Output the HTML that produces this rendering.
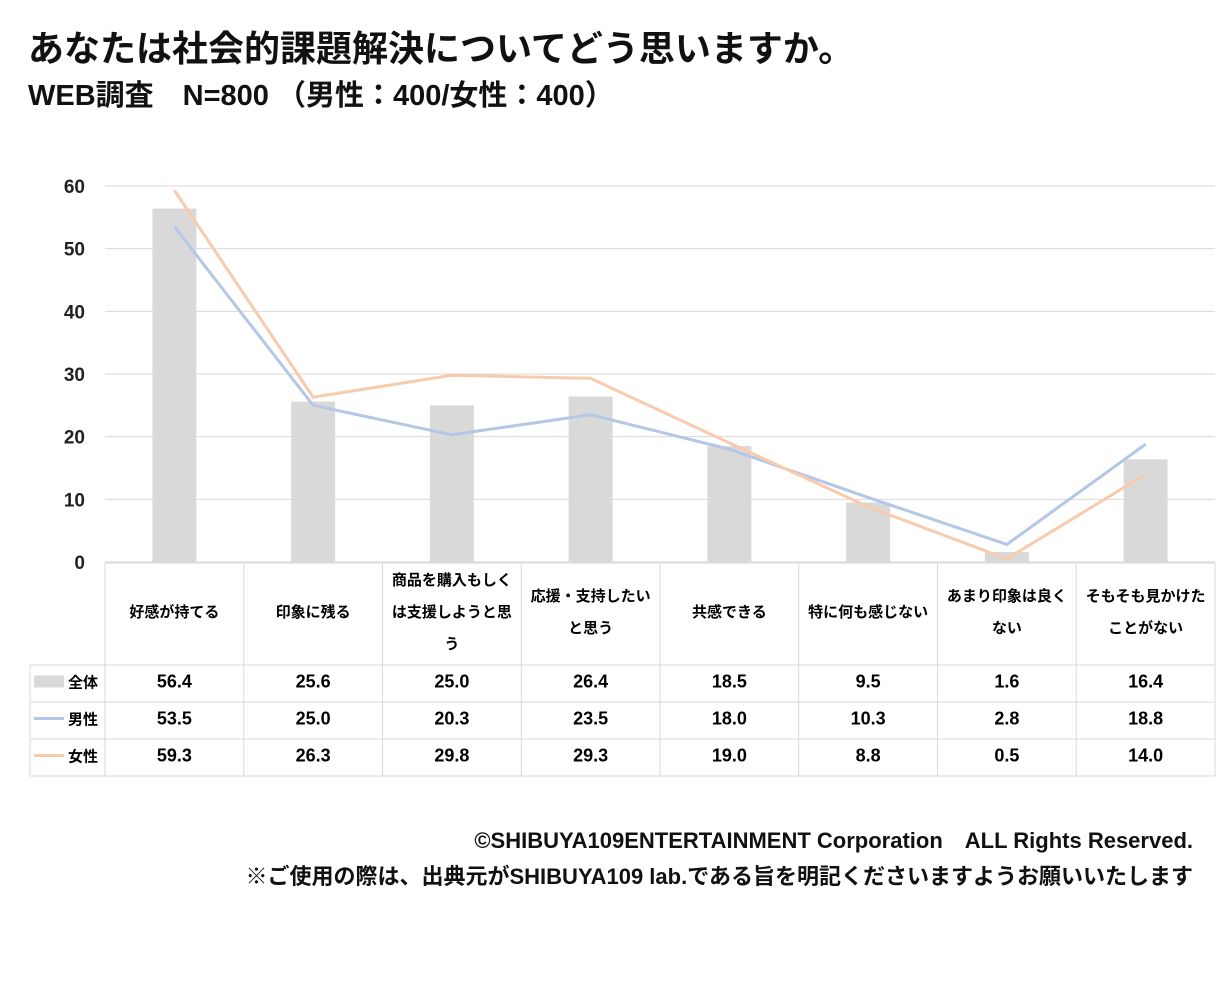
<!DOCTYPE html>
<html><head><meta charset="utf-8">
<style>
body{margin:0;width:1229px;height:998px;background:#fff;font-family:"Liberation Sans","Noto Sans CJK JP",sans-serif;color:#111;position:relative;overflow:hidden}
.t1{position:absolute;left:28px;top:20px;font-size:36px;font-weight:bold;white-space:nowrap}
.t2{position:absolute;left:28px;top:72px;font-size:29px;font-weight:bold;white-space:nowrap}
.ft{position:absolute;right:36px;font-size:22px;font-weight:bold;white-space:nowrap}
svg text{font-family:"Liberation Sans","Noto Sans CJK JP",sans-serif}
</style></head><body>
<div class="t1">あなたは社会的課題解決についてどう思いますか。</div>
<div class="t2">WEB調査　N=800 （男性：400/女性：400）</div>
<svg id="c" width="1229" height="800" style="position:absolute;left:0;top:0"></svg>
<div class="ft" style="top:823px">©SHIBUYA109ENTERTAINMENT Corporation　ALL Rights Reserved.</div>
<div class="ft" style="top:859px">※ご使用の際は、出典元がSHIBUYA109 lab.である旨を明記くださいますようお願いいたします</div>
<script>
const categories=[["好感が持てる"],["印象に残る"],["商品を購入もしく","は支援しようと思","う"],["応援・支持したい","と思う"],["共感できる"],["特に何も感じない"],["あまり印象は良く","ない"],["そもそも見かけた","ことがない"]];
const totalVals=[56.4,25.6,25.0,26.4,18.5,9.5,1.6,16.4];
const maleVals=[53.5,25.0,20.3,23.5,18.0,10.3,2.8,18.8];
const femaleVals=[59.3,26.3,29.8,29.3,19.0,8.8,0.5,14.0];
const yTicks=[0,10,20,30,40,50,60];
const NS="http://www.w3.org/2000/svg";
const svg=document.getElementById('c');
const L=105,R=1215,Y0=562,Y60=186,cw=(R-L)/categories.length;
const y=v=>Y0-(v/60)*(Y0-Y60);
const xc=i=>L+cw*(i+0.5);
function mk(t,a,p){const e=document.createElementNS(NS,t);for(const k in a)e.setAttribute(k,a[k]);(p||svg).appendChild(e);return e;}
yTicks.forEach(t=>{
 const g=mk('line',{x1:L,x2:R,y1:y(t),y2:y(t),stroke:'#d9d9d9','stroke-width':1});
 
 
 const tx=mk('text',{x:85,y:y(t)+7,'text-anchor':'end','font-size':19,'font-weight':'bold',fill:'#222'});tx.textContent=t;
 
 
});
totalVals.forEach((v,i)=>{
 const b=mk('rect',{x:xc(i)-22,y:y(v),width:44,height:Y0-y(v),fill:'#d9d9d9'});
 
 
});
function line(vals,col,name){
 const p=mk('polyline',{points:vals.map((v,i)=>xc(i)+','+y(v)).join(' '),fill:'none',stroke:col,'stroke-width':3});
 
 
}
line(maleVals,'#b4c7e7','line-male');
line(femaleVals,'#f8cbad','line-female');
const T0=563,rows=[665,702,739,776],TL=30;
const tc='#d9d9d9';
mk('line',{x1:L,x2:R,y1:T0,y2:T0,stroke:tc});
rows.forEach(r=>mk('line',{x1:TL,x2:R,y1:r,y2:r,stroke:tc}));
for(let i=0;i<=categories.length;i++){mk('line',{x1:L+cw*i,x2:L+cw*i,y1:T0,y2:776,stroke:tc});}
mk('line',{x1:TL,x2:TL,y1:665,y2:776,stroke:tc});
categories.forEach((c,i)=>{
 const n=c.length,lh=32,st=611-(n-1)*lh/2;
 c.forEach((s,j)=>{const t=mk('text',{x:xc(i),y:st+j*lh+6,'text-anchor':'middle','font-size':15,'font-weight':'bold'});t.textContent=s;
 
 });
});
const series=[["全体",totalVals,'#d9d9d9','bar'],["男性",maleVals,'#b4c7e7','line'],["女性",femaleVals,'#f8cbad','line']];
series.forEach((s,r)=>{
 const cy=(rows[r]+rows[r+1])/2-2;
 if(s[3]=='bar')mk('rect',{x:34,y:cy-6,width:30,height:12,fill:s[2]});
 else mk('line',{x1:34,x2:64,y1:cy,y2:cy,stroke:s[2],'stroke-width':3});
 const lt=mk('text',{x:68,y:cy+6,'font-size':15,'font-weight':'bold'});lt.textContent=s[0];
 
 
 s[1].forEach((v,i)=>{const t=mk('text',{x:xc(i),y:cy+6,'text-anchor':'middle','font-size':18,'font-weight':'bold'});t.textContent=v.toFixed(1);
 
 });
});
</script>
</body></html>
